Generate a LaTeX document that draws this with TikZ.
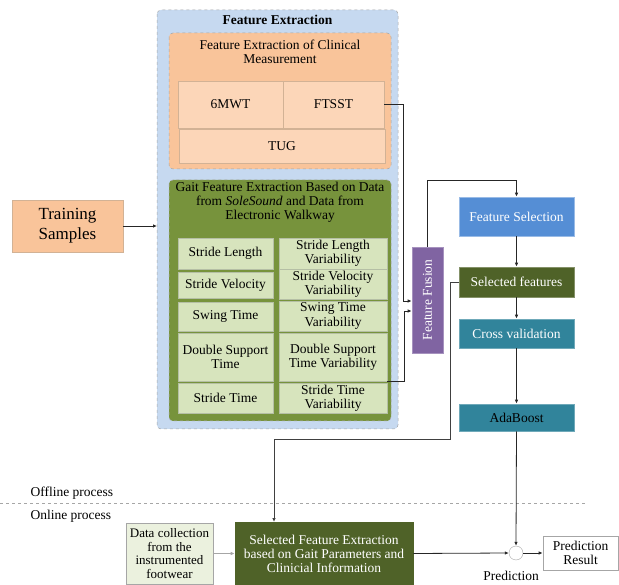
\documentclass[tikz,border=0pt]{standalone}
\usepackage{fontspec}
\setmainfont{Liberation Serif}
\usetikzlibrary{arrows.meta,positioning,calc}
\definecolor{outerblue}{HTML}{C6D9F0}
\definecolor{clinor}{HTML}{F9C49A}
\definecolor{peach}{HTML}{FCD6B8}
\definecolor{peachline}{HTML}{D2B295}
\definecolor{gaitgreen}{HTML}{77933C}
\definecolor{litegreen}{HTML}{D7E4BD}
\definecolor{litegreenline}{HTML}{B5BFA5}
\definecolor{fusionpurple}{HTML}{8064A2}
\definecolor{selblue}{HTML}{558ED5}
\definecolor{darkolive}{HTML}{4F6228}
\definecolor{teal}{HTML}{31849B}
\definecolor{dcgreen}{HTML}{EBF1DE}
\definecolor{boxgray}{HTML}{A6A6A6}
\tikzset{
  txt/.style={font=\fontsize{13.5}{14.2}\selectfont},
  region/.style={draw=boxgray, dashed, rounded corners=4pt, line width=0.5pt},
  peachbox/.style={draw=peachline, fill=peach, line width=0.6pt, inner sep=0pt, align=center, txt},
  gbox/.style={draw=litegreenline, fill=litegreen, line width=0.6pt, inner sep=0pt, align=center, txt},
  flowbox/.style={inner sep=0pt, align=center, txt, line width=0.6pt},
  conn/.style={line width=0.8pt, draw=black!85},
  arr/.style={conn, -{Latex[length=4pt,width=3.5pt]}},
}
\newcommand{\boxnode}[6]{% style, name, x1, y1, x2, y2 ; text via next arg
  \node[#1, minimum width={#5-#3}, minimum height={#6-#4}] (#2) at ({(#3+#5)/2},{(#4+#6)/2})}
\begin{document}
\begin{tikzpicture}[x=1pt,y=-1pt]
\useasboundingbox (0,0) rectangle (619,585);

% Feature Extraction region
\draw[region, fill=outerblue] (157,10) rectangle (398,429);
\coordinate (fetl) at (157,10);
\coordinate (febr) at (398,429);
\node[font=\fontsize{13.5}{14.2}\selectfont\bfseries] (fetitle) at (277.5,20) {Feature Extraction};

% Clinical
\draw[region, fill=clinor] (169,33) rectangle (391,169);
\node[txt, align=center] (clintitle) at (280,52) {Feature Extraction of Clinical\\Measurement};
\boxnode{peachbox}{mwt}{178}{81}{283}{128} {6MWT};
\boxnode{peachbox}{ftsst}{283}{81}{384}{128} {FTSST};
\boxnode{peachbox}{tug}{179}{129}{385}{163} {TUG};

% Gait
\draw[region, fill=gaitgreen] (169,180) rectangle (391,421);
\node[txt, align=center] (gaittitle) at (280,202) {Gait Feature Extraction Based on Data\\from \textit{SoleSound} and Data from\\Electronic Walkway};
\boxnode{gbox}{sl}{178}{238}{273}{269} {Stride Length};
\boxnode{gbox}{sv}{178}{272}{273}{298} {Stride Velocity};
\boxnode{gbox}{sw}{178}{302}{273}{331} {Swing Time};
\boxnode{gbox}{ds}{178}{333}{273}{381} {Double Support\\Time};
\boxnode{gbox}{st}{178}{383}{273}{413} {Stride Time};
\boxnode{gbox}{slv}{279}{238}{387}{269} {Stride Length\\Variability};
\boxnode{gbox}{svv}{279}{269}{387}{299} {Stride Velocity\\Variability};
\boxnode{gbox}{swv}{279}{301}{387}{331} {Swing Time\\Variability};
\boxnode{gbox}{dsv}{279}{333}{387}{381} {Double Support\\Time Variability};
\boxnode{gbox}{stv}{279}{383}{387}{413} {Stride Time\\Variability};

% Training samples
\boxnode{flowbox, draw=peachline, fill=clinor, font=\fontsize{17}{20}\selectfont}{train}{12}{200}{123}{252} {Training\\Samples};

% Right pipeline
\boxnode{flowbox, fill=fusionpurple, draw=fusionpurple!70!white}{fusion}{412}{247}{443}{353} {};
\node[txt, text=white, rotate=90] (fusiontxt) at (fusion.center) {Feature Fusion};
\boxnode{flowbox, fill=selblue, draw=selblue!60!white, text=white}{fsel}{459}{197}{574}{236} {Feature Selection};
\boxnode{flowbox, fill=darkolive, draw=darkolive!70!white, text=white}{self}{459}{267}{574}{297} {Selected features};
\boxnode{flowbox, fill=teal, draw=teal!70!white, text=white}{cv}{459}{319}{574}{348} {Cross validation};
\boxnode{flowbox, fill=teal, draw=teal!70!white, text=black}{ada}{459}{404}{574}{431} {AdaBoost};

% Online part
\node[txt, anchor=west] (offline) at (27,493) {Offline process};
\node[txt, anchor=west] (online) at (27,516) {Online process};
\coordinate (dl) at (0,503);
\coordinate (dr) at (587,503);
\draw[boxgray, dashed, line width=0.5pt] (dl) -- (dr);

\boxnode{flowbox, fill=dcgreen, draw=boxgray, font=\fontsize{13}{13.5}\selectfont}{dc}{126}{523}{213}{584} {Data collection\\from the\\instrumented\\footwear};
\boxnode{flowbox, fill=darkolive, draw=darkolive, text=white, font=\fontsize{13.5}{14}\selectfont}{sfe}{235}{522}{413}{585} {Selected Feature Extraction\\based on Gait Parameters and\\Clinicial Information};
\node[circle, draw=boxgray, fill=white, minimum size=14pt, inner sep=0pt] (pred) at (516,553) {};
\node[txt] (predlbl) at (511,576) {Prediction};
\boxnode{flowbox, fill=white, draw=boxgray}{pr}{543}{536}{618}{570} {Prediction\\Result};

% Connectors
\draw[arr] (train.east) -- (train.east -| fetl);
\coordinate (fusin1) at ($(fusion.west)+(0,1)$);
\coordinate (fusin2) at ($(fusion.west)+(0,11)$);
\draw[arr] (ftsst.east) -- ++(19,0) |- (fusin1);
\draw[arr] (dsv.south east) -- ++(17,0) |- (fusin2);
\coordinate (fusup) at ($(fusion.north)+(0,-66)$);
\draw[arr] (fusion.north) -- (fusup) -| (fsel.north);
\draw[arr] (fsel.south) -- (self.north);
\draw[arr] (self.south) -- (cv.north);
\draw[arr] (cv.south) -- (ada.north);
\coordinate (selbend) at (450,439);
\coordinate (sfetop) at (274,522);
\draw[arr, draw=black!75] (self.west) -- (self.west -| selbend) -- (selbend) -- (selbend -| sfetop) -- (sfetop);
\draw[arr] (ada.south) -- (pred.north);
\draw[arr, draw=boxgray] (dc.east) -- (sfe.west);
\draw[arr] (sfe.east) -- (pred.west);
\draw[arr] (pred.east) -- (pr.west);
\end{tikzpicture}
\end{document}
